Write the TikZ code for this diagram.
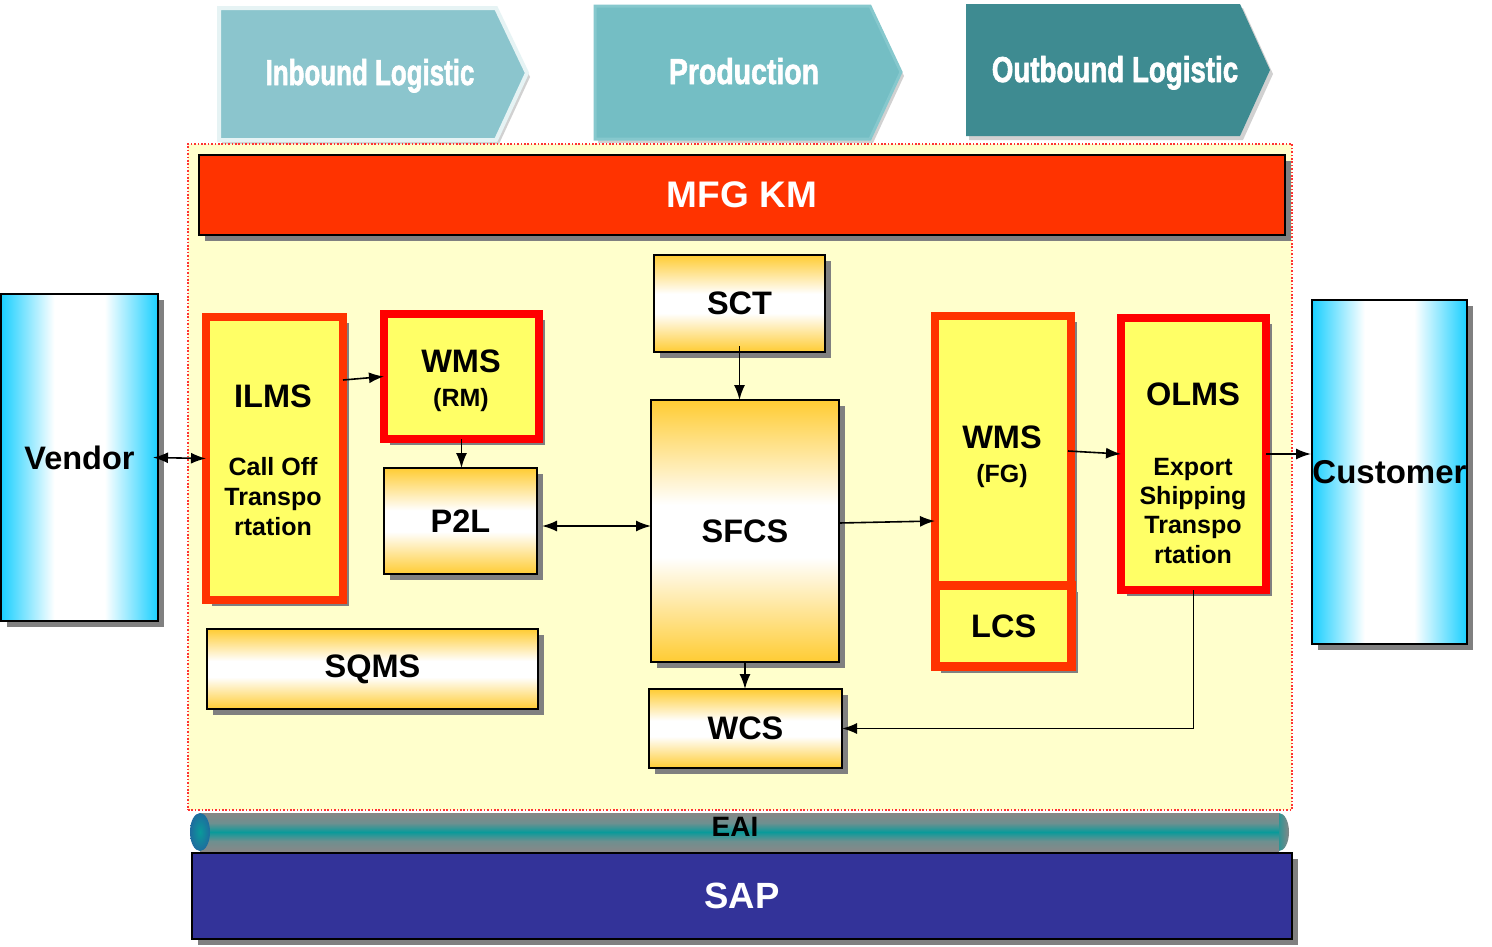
\documentclass[tikz,border=0pt]{standalone}
\usepackage{fontspec}
\setmainfont{Liberation Sans}
\newfontfamily\chevfont[BoldFeatures={FakeBold=2}]{Liberation Sans}
\usepackage{graphicx}
\usetikzlibrary{arrows.meta,shadows,calc}
\definecolor{bgyel}{HTML}{FFFFCC}
\definecolor{mfgc}{HTML}{FF3300}
\definecolor{redA}{HTML}{FF3300}
\definecolor{redB}{HTML}{FF0000}
\definecolor{yelin}{HTML}{FFFF66}
\definecolor{goldc}{HTML}{FFCC33}
\definecolor{cyc}{HTML}{19CFFF}
\definecolor{sapc}{HTML}{333399}
\definecolor{chA}{HTML}{8BC5CD}
\definecolor{chAb}{HTML}{E6F3F4}
\definecolor{chB}{HTML}{74BEC4}
\definecolor{chBb}{HTML}{86C8CD}
\definecolor{chC}{HTML}{3E8B91}
\definecolor{pipeG}{HTML}{878787}
\definecolor{pipeM}{HTML}{6E9090}
\definecolor{pipeT}{HTML}{0A9A9A}
\definecolor{capB}{HTML}{1E6C9E}
\definecolor{dotred}{HTML}{FF3333}
\definecolor{shgray}{HTML}{808080}
\pgfdeclarehorizontalshading{cyshade}{100bp}{color(0bp)=(cyc); color(25bp)=(cyc); color(42bp)=(white); color(58bp)=(white); color(75bp)=(cyc); color(100bp)=(cyc)}
\pgfdeclareverticalshading{goldshade}{100bp}{color(0bp)=(goldc); color(25bp)=(goldc); color(45bp)=(white); color(55bp)=(white); color(75bp)=(goldc); color(100bp)=(goldc)}
\pgfdeclareverticalshading{pipeshade}{100bp}{color(0bp)=(pipeG); color(25bp)=(pipeG); color(38bp)=(pipeM); color(50bp)=(pipeT); color(62bp)=(pipeM); color(75bp)=(pipeG); color(100bp)=(pipeG)}
\begin{document}
\begin{tikzpicture}[x=1pt,y=-1pt,
  shad/.style={drop shadow={shadow xshift=6pt,shadow yshift=-6pt,fill=shgray,opacity=1}},
  lightshad/.style={drop shadow={shadow xshift=3pt,shadow yshift=-4pt,fill=black!18,opacity=1}},
  goldbox/.style={draw=black,line width=2pt,shading=goldshade,shad,inner sep=0pt,outer sep=0pt,lbl},
  redbox/.style={line width=8pt,fill=yelin,shad,inner sep=0pt,outer sep=0pt},
  lbl/.style={font=\bfseries\fontsize{32.5}{36}\selectfont,inner sep=0pt},
  sub/.style={font=\bfseries\fontsize{25}{30}\selectfont,inner sep=0pt,anchor=base},
  ttl/.style={font=\bfseries\fontsize{32.5}{36}\selectfont,inner sep=0pt,anchor=base},
  chev/.style={font=\chevfont\bfseries\fontsize{36}{38}\selectfont,text=white,inner sep=0pt,anchor=base},
  tip/.tip={Latex[length=15pt,width=11pt]},
  arr/.style={line width=1.6pt,-tip},
  dbl/.style={line width=1.6pt,tip-tip}
]
\useasboundingbox[fill=white] (0,0) rectangle (1492,946);

% chevrons
\path[fill=chA,draw=chAb,line width=4pt,lightshad] (219,8) -- (496,8) -- (527,73) -- (496,140) -- (219,140) -- cycle;
\path[fill=chB,draw=chBb,line width=3pt,lightshad] (595,6) -- (870,6) -- (901,72) -- (870,139) -- (595,139) -- cycle;
\path[fill=chC,lightshad] (966,4) -- (1240,4) -- (1270,70) -- (1240,136) -- (966,136) -- cycle;
\node[chev] (tin) at (370,85) {\scalebox{0.72}[1]{Inbound Logistic}};
\node[chev] (tpr) at (744,84) {\scalebox{0.79}[1]{Production}};
\node[chev] (tout) at (1115,82) {\scalebox{0.77}[1]{Outbound Logistic}};

% frame
\node[draw=dotred,dash pattern=on 1.6pt off 1.8pt,line width=1.6pt,fill=bgyel,minimum width=1104pt,minimum height=666pt,inner sep=0pt] (frame) at (740,477) {};

% MFG KM
\node[draw=black,line width=2pt,fill=mfgc,shad,minimum width=1086pt,minimum height=80pt,inner sep=0pt,font=\bfseries\fontsize{37}{40}\selectfont,text=white] (mfg) at (742,195) {MFG KM};

% vendor / customer
\node[draw=black,line width=2pt,shading=cyshade,shad,minimum width=157pt,minimum height=327pt,lbl] (vendor) at (79.5,457.5) {Vendor};
\node[draw=black,line width=2pt,shading=cyshade,shad,minimum width=155pt,minimum height=344pt,lbl,font=\bfseries\fontsize{33}{36}\selectfont] (customer) at (1389.5,472) {Customer};

% red boxes
\node[redbox,draw=redA,minimum width=137pt,minimum height=283pt] (ilms) at (274.5,458.5) {};
\node[redbox,draw=redB,minimum width=155pt,minimum height=125pt] (wmsrm) at (461.5,376.5) {};
\node[redbox,draw=redA,minimum width=136pt,minimum height=270pt] (wmsfg) at (1003,451) {};
\node[redbox,draw=redA,line width=9pt,minimum width=136.5pt,minimum height=81pt,lbl] (lcs) at (1003.7,626) {LCS};
\node[redbox,draw=redB,minimum width=145pt,minimum height=272pt] (olms) at (1193.5,454) {};

\node[ttl] (ilmsT) at (273,407.6) {ILMS};
\node[sub] (ilmsA) at (273,475) {Call Off};
\node[sub] (ilmsB) at (273,505) {Transpo};
\node[sub] (ilmsC) at (273,535) {rtation};

\node[ttl] (wmsrmT) at (461,372.6) {WMS};
\node[sub] (wmsrmS) at (461,406) {(RM)};

\node[ttl] (wmsfgT) at (1002,448.6) {WMS};
\node[sub] (wmsfgS) at (1002,482) {(FG)};

\node[ttl] (olmsT) at (1193,405.6) {OLMS};
\node[sub] (olmsA) at (1193,475) {Export};
\node[sub] (olmsB) at (1193,504) {Shipping};
\node[sub] (olmsC) at (1193,533) {Transpo};
\node[sub] (olmsD) at (1193,563) {rtation};

% gold boxes
\node[goldbox,minimum width=171pt,minimum height=97pt] (sct) at (739.5,303.5) {SCT};
\node[goldbox,minimum width=188pt,minimum height=262pt] (sfcs) at (745,531) {SFCS};
\node[goldbox,minimum width=193pt,minimum height=79pt] (wcs) at (745.5,728.5) {WCS};
\node[goldbox,minimum width=153pt,minimum height=106pt] (p2l) at (460.5,521) {P2L};
\node[goldbox,minimum width=331pt,minimum height=80pt] (sqms) at (372.5,669) {SQMS};

% EAI pipe
\path[shading=pipeshade] (200,813) -- (1279,813) -- (1279,851) -- (200,851) -- cycle;
\path[left color=pipeT!70!pipeG,right color=pipeG] (1279,813) arc[start angle=90,end angle=-90,x radius=10pt,y radius=19pt] -- cycle;
\path[inner color=pipeT,outer color=capB] (200,832) ellipse[x radius=10pt,y radius=19pt];
\node[font=\bfseries\fontsize{28}{30}\selectfont,inner sep=0pt] (eai) at (735,827) {EAI};

% SAP
\node[draw=black,line width=2pt,fill=sapc,shad,minimum width=1100pt,minimum height=86pt,inner sep=0pt,font=\bfseries\fontsize{36.5}{40}\selectfont,text=white] (sap) at (742,896) {SAP};

% connectors
\draw[dbl] ([xshift=-6pt]vendor.east) -- (ilms.west);
\draw[arr] ([yshift=78.5pt]ilms.east) -- (wmsrm.west);
\draw[arr] (wmsrm.south) -- (wmsrm.south |- p2l.north);
\coordinate (pm) at ([xshift=5pt,yshift=-5pt]p2l.east);
\draw[dbl] (pm) -- (pm -| sfcs.west);
\draw[arr] ([yshift=6pt]sct.south) -- (sct.south |- sfcs.north);
\draw[arr] (sfcs.south) -- (sfcs.south |- wcs.north);
\draw[arr] ([yshift=8pt]sfcs.east) -- ([yshift=-70pt]wmsfg.west);
\draw[arr] ([xshift=-3pt]wmsfg.east) -- (olms.west);
\draw[arr] (olms.east) -- (olms.east -| customer.west);
\draw[arr] (olms.south) |- (wcs.east);
\end{tikzpicture}
\end{document}
